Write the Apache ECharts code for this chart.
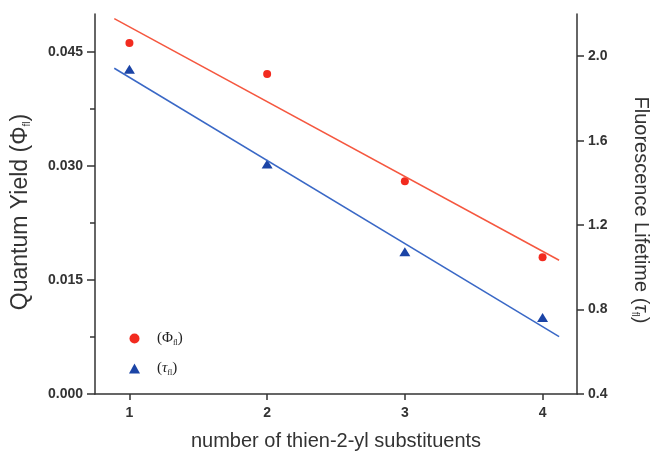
<!DOCTYPE html>
<html><head><meta charset="utf-8">
<script src="https://cdn.jsdelivr.net/npm/echarts@6/dist/echarts.min.js"></script>
<style>html,body{margin:0;padding:0;background:#fff}#c{width:654px;height:452px}</style>
</head><body><div id="c"></div>
<script>
const substituents = [1, 2, 3, 4];
const quantumYield = [0.0462, 0.0421, 0.0280, 0.0180];
const lifetime = [1.938, 1.49, 1.074, 0.762];
const fitX = [0.89, 4.12];
const quantumYieldFit = [0.0494, 0.0176];
const lifetimeFit = [1.943, 0.672];
const xTicks = [1, 2, 3, 4];
const leftTicks = [0, 0.015, 0.030, 0.045];
const leftMinorTicks = [0.0075, 0.0225, 0.0375];
const rightTicks = [0.4, 0.8, 1.2, 1.6, 2.0];

const FONT = 'Liberation Sans, Arial, sans-serif';
const SERIF = 'Liberation Serif, Times New Roman, serif';
const AX = '#333';
const labelStyle = {fontFamily: FONT, fontSize: 14, color: '#333', fontWeight: 'bold'};
function subRich(fs) {
  return {
    n: {fontFamily: FONT, fontSize: fs, color: '#333', lineHeight: 26},
    ni: {fontFamily: FONT, fontSize: fs, color: '#333', fontStyle: 'italic', lineHeight: 26},
    sub: {fontFamily: FONT, fontSize: 10, color: '#333', lineHeight: 26, padding: [12, 0, 0, 0]}
  };
}

const chart = echarts.init(document.getElementById('c'), null, {renderer: 'canvas'});
chart.setOption({
  backgroundColor: '#fff',
  animation: false,
  grid: {left: 95, right: 77, top: 14, bottom: 58, containLabel: false, outerBoundsMode: 'none'},
  legend: {
    orient: 'vertical', left: 124, top: 325, itemGap: 13,
    itemWidth: 11, itemHeight: 10,
    data: [{name: 'phi', icon: 'circle'}, {name: 'tau', icon: 'triangle'}],
    formatter: n => n === 'phi' ? '{a|(Φ}{b|fl}{a|)}' : '{a|(}{i|τ}{b|fl}{a|)}',
    textStyle: {
      rich: {
        a: {fontFamily: SERIF, fontSize: 15, color: '#222', lineHeight: 20},
        i: {fontFamily: SERIF, fontSize: 15, color: '#222', fontStyle: 'italic', lineHeight: 20},
        b: {fontFamily: SERIF, fontSize: 8, color: '#222', lineHeight: 20, padding: [9, 0, 0, 0]}
      },
      padding: [0, 0, 0, 12]
    }
  },
  xAxis: {
    type: 'value', min: 0.75, max: 4.25,
    name: 'number of thien-2-yl substituents', nameLocation: 'middle', nameGap: 35,
    nameTextStyle: {fontFamily: FONT, fontSize: 20, color: '#333', lineHeight: 24},
    axisLine: {show: true, lineStyle: {color: AX, width: 1.5}},
    axisTick: {show: true, length: 6, customValues: xTicks, lineStyle: {color: AX, width: 1.5}},
    axisLabel: Object.assign({margin: 12, customValues: xTicks, formatter: v => String(v)}, labelStyle),
    splitLine: {show: false}
  },
  yAxis: [
    {
      type: 'value', position: 'left', min: 0, max: 0.05,
      name: '{n|Quantum Yield (Φ}{sub|fl}{n|)}', nameLocation: 'middle', nameGap: 61,
      nameTextStyle: {rich: subRich(23), padding: [0, 16, 0, 0]},
      axisLine: {show: true, onZero: false, lineStyle: {color: AX, width: 1.5}},
      axisTick: {show: true, length: 8, customValues: leftTicks, lineStyle: {color: AX, width: 1.5}},
      axisLabel: Object.assign({margin: 12, customValues: leftTicks, formatter: v => v.toFixed(3)}, labelStyle),
      splitLine: {show: false}
    },
    {
      type: 'value', position: 'left', min: 0, max: 0.05,
      axisLine: {show: false},
      axisTick: {show: true, length: 5, customValues: leftMinorTicks, lineStyle: {color: AX, width: 1.5}},
      axisLabel: {show: false},
      splitLine: {show: false}
    },
    {
      type: 'value', position: 'right', min: 0.4, max: 2.2,
      name: '{n|Fluorescence Lifetime (}{ni|τ}{sub|fl}{n|)}', nameLocation: 'middle', nameGap: 51, nameRotate: -90,
      nameTextStyle: {rich: subRich(20), padding: [0, 0, 0, 12]},
      axisLine: {show: true, onZero: false, lineStyle: {color: AX, width: 1.5}},
      axisTick: {show: true, length: 7, customValues: rightTicks, lineStyle: {color: AX, width: 1.5}},
      axisLabel: Object.assign({margin: 11, customValues: rightTicks, formatter: v => v.toFixed(1)}, labelStyle),
      splitLine: {show: false}
    }
  ],
  series: [
    {
      name: 'phiFit', type: 'line', yAxisIndex: 0, symbol: 'none', silent: true,
      data: fitX.map((x, i) => [x, quantumYieldFit[i]]),
      lineStyle: {color: '#f5573f', width: 1.5}
    },
    {
      name: 'tauFit', type: 'line', yAxisIndex: 2, symbol: 'none', silent: true,
      data: fitX.map((x, i) => [x, lifetimeFit[i]]),
      lineStyle: {color: '#3a68c6', width: 1.5}
    },
    {
      name: 'phi', type: 'scatter', yAxisIndex: 0, symbol: 'circle', symbolSize: 8,
      data: substituents.map((x, i) => [x, quantumYield[i]]),
      itemStyle: {color: '#f22b1f', opacity: 1}
    },
    {
      name: 'tau', type: 'scatter', yAxisIndex: 2, symbol: 'triangle', symbolSize: [11, 9],
      data: substituents.map((x, i) => [x, lifetime[i]]),
      itemStyle: {color: '#1b44a6', opacity: 1}
    }
  ]
});
</script></body></html>
